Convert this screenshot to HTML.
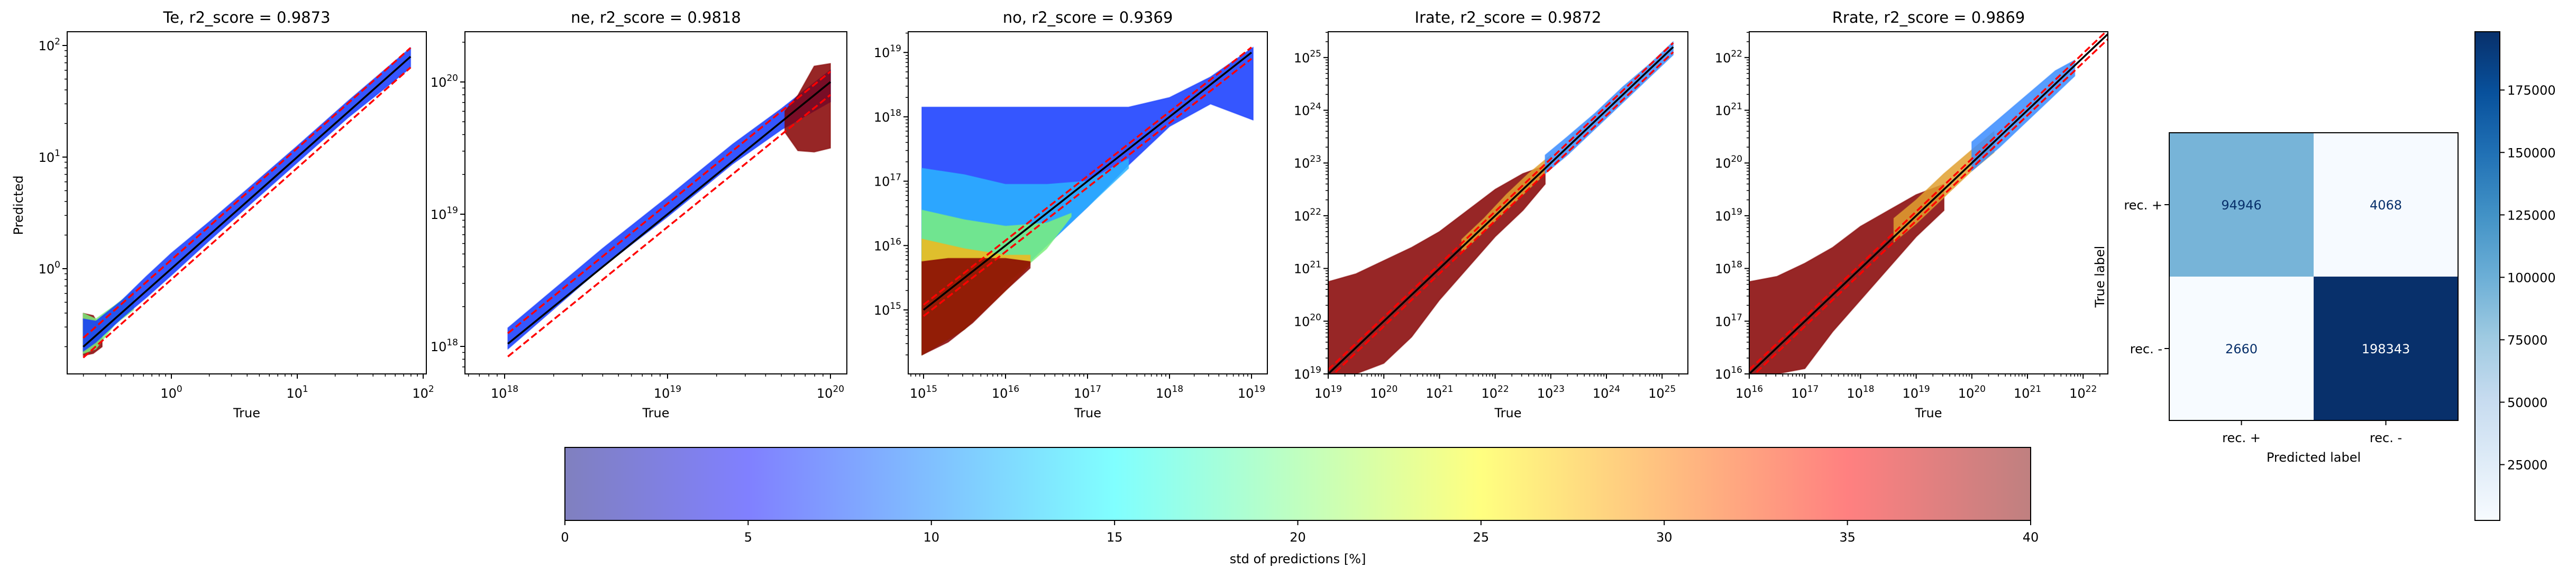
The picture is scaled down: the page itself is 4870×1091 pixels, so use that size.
<!DOCTYPE html>
<html><head><meta charset="utf-8"><style>
html,body{margin:0;padding:0;background:#fff;}
svg{display:block;font-family:"DejaVu Sans","Liberation Sans",sans-serif;}
</style></head><body>
<svg id="fig" width="4870" height="1091" viewBox="0 0 4870 1091" xmlns="http://www.w3.org/2000/svg">
<defs>
<linearGradient id="jetA" x1="0" x2="1" y1="0" y2="0">
<stop offset="0" stop-color="#8080bf"/><stop offset="0.125" stop-color="#8080ff"/><stop offset="0.375" stop-color="#80ffff"/><stop offset="0.625" stop-color="#ffff80"/><stop offset="0.875" stop-color="#ff8080"/><stop offset="1" stop-color="#bf8080"/>
</linearGradient>
<linearGradient id="bluesG" x1="0" x2="0" y1="1" y2="0">
<stop offset="0" stop-color="#f7fbff"/><stop offset="0.125" stop-color="#deebf7"/><stop offset="0.25" stop-color="#c6dbef"/><stop offset="0.375" stop-color="#9ecae1"/><stop offset="0.5" stop-color="#6baed6"/><stop offset="0.625" stop-color="#4292c6"/><stop offset="0.75" stop-color="#2171b5"/><stop offset="0.875" stop-color="#08519c"/><stop offset="1" stop-color="#08306b"/>
</linearGradient>
</defs>
</svg>
<script>
// ---------- data (log10 units) ----------
const teBlueX=[-0.7,-0.6,-0.4,-0.2,0,0.3,0.6,1.0,1.4,1.9];
const teBlueLo=[-0.74,-0.66,-0.45,-0.26,-0.06,0.25,0.55,0.95,1.35,1.80];
const teBlueHi=[-0.45,-0.47,-0.29,-0.07,0.14,0.42,0.71,1.10,1.50,1.98];
const teGreenX=[-0.7,-0.6,-0.45,-0.3];
const teGreenLo=[-0.76,-0.72,-0.5,-0.37];
const teGreenHi=[-0.4,-0.45,-0.33,-0.2];
const teRedX=[-0.7,-0.62,-0.55];
const teRedLo=[-0.78,-0.76,-0.7];
const teRedHi=[-0.4,-0.42,-0.55];

const neBlueX=[18.02,18.3,18.6,19.0,19.4,19.7,20.0];
const neBlueLo=[17.98,18.28,18.6,18.98,19.38,19.64,19.85];
const neBlueHi=[18.14,18.43,18.74,19.13,19.53,19.8,20.09];
const neRedX=[19.72,19.8,19.9,20.0];
const neRedLo=[19.62,19.48,19.47,19.5];
const neRedHi=[19.78,19.9,20.12,20.14];

const noBlueX=[14.98,15.5,16,16.5,17,17.5,18,18.5,19.02];
const noBlueLo=[14.3,14.7,15.4,16.0,16.6,17.25,17.85,18.2,17.95];
const noBlueHi=[18.15,18.15,18.15,18.15,18.15,18.15,18.3,18.62,19.08];
const noCyanX=[14.98,15.5,16,16.5,17,17.5];
const noCyanLo=[14.3,14.7,15.4,16.0,16.6,17.2];
const noCyanHi=[17.2,17.1,16.95,16.95,17.0,17.35];
const noGreenX=[14.98,15.5,16,16.5,16.8];
const noGreenLo=[14.3,14.7,15.4,15.95,16.45];
const noGreenHi=[16.55,16.4,16.3,16.35,16.5];
const noYellowX=[14.98,15.5,16,16.3];
const noYellowLo=[14.3,14.7,15.3,15.7];
const noYellowHi=[16.1,15.95,15.85,15.85];
const noRedX=[14.98,15.3,15.6,16.0,16.3];
const noRedLo=[14.3,14.5,14.8,15.3,15.65];
const noRedHi=[15.75,15.8,15.8,15.8,15.75];

const irRedX=[19,19.5,20,20.5,21,21.5,22,22.5,22.9];
const irRedLo=[19,19,19.2,19.7,20.4,21.0,21.6,22.1,22.6];
const irRedHi=[20.75,20.9,21.15,21.4,21.7,22.1,22.5,22.8,22.95];
const irMidX=[21.4,21.8,22.2,22.6,23.0];
const irMidLo=[21.3,21.7,22.1,22.5,22.9];
const irMidHi=[21.55,21.95,22.4,22.8,23.15];
const irBlueX=[22.9,23.3,23.8,24.3,24.8,25.2];
const irBlueLo=[22.8,23.15,23.65,24.15,24.65,25.05];
const irBlueHi=[23.15,23.5,23.95,24.45,24.9,25.3];

const rrRedX=[16,16.5,17,17.5,18,18.5,19,19.5];
const rrRedLo=[16,16,16.1,16.8,17.4,18.0,18.6,19.1];
const rrRedHi=[17.75,17.85,18.1,18.4,18.8,19.1,19.4,19.6];
const rrMidX=[18.6,19,19.5,20,20.4];
const rrMidLo=[18.5,18.85,19.35,19.85,20.2];
const rrMidHi=[18.95,19.3,19.8,20.25,20.6];
const rrBlueX=[20,20.5,21,21.5,21.85];
const rrBlueLo=[19.85,20.3,20.8,21.3,21.65];
const rrBlueHi=[20.4,20.85,21.3,21.75,21.95];

const panelTitles=["Te, r2_score = 0.9873","ne, r2_score = 0.9818","no, r2_score = 0.9369","Irate, r2_score = 0.9872","Rrate, r2_score = 0.9869"];
const teTicks=[0,1,2], neTicks=[18,19,20], noTicks=[15,16,17,18,19], irTicks=[19,20,21,22,23,24,25], rrTicks=[16,17,18,19,20,21,22];

const cmValues=[[94946,4068],[2660,198343]];
const cmLabels=["rec. +","rec. -"];
const cbTicks=[25000,50000,75000,100000,125000,150000,175000];
const cbMin=2660, cbMax=198343;
const stdTicks=[0,5,10,15,20,25,30,35,40];

// ---------- helpers ----------
const NS="http://www.w3.org/2000/svg";
const svg=document.getElementById('fig');
function mk(tag,attrs,parent){const e=document.createElementNS(NS,tag);for(const k in attrs)e.setAttribute(k,attrs[k]);(parent||svg).appendChild(e);return e;}
function powLabel(g,x,y,exp,anchor){
  const t=mk('text',{x:x,y:y,'font-size':24,'text-anchor':anchor},g);
  const a=document.createElementNS(NS,'tspan');a.textContent='10';t.appendChild(a);
  const b=document.createElementNS(NS,'tspan');b.setAttribute('dy','-11');b.setAttribute('font-size','17');b.textContent=String(exp);t.appendChild(b);
  return t;
}
const COL={red:'#850000',blue:'#1238ff',cyan:'#2ab4ff',green:'#7cf07c',yellow:'#f2b81c',mid:'#e0a030',lblue:'#3a8cff'};

const panels=[
 {name:'te',L:127,R:806,T:60,B:707,xa:0,xpx:324,xd:238,ya:0,ypx:508,yd:211,xt:teTicks,yt:teTicks,line:[-0.7,1.9],ylab:true,
  layers:[[teRedX,teRedLo,teRedHi,COL.red],[teGreenX,teGreenLo,teGreenHi,COL.green],[teBlueX,teBlueLo,teBlueHi,COL.blue]]},
 {name:'ne',L:879,R:1601,T:60,B:707,xa:19,xpx:1262,xd:308,ya:19,ypx:405,yd:250,xt:neTicks,yt:neTicks,line:[18.02,20.0],
  layers:[[neBlueX,neBlueLo,neBlueHi,COL.blue],[neRedX,neRedLo,neRedHi,COL.red]]},
 {name:'no',L:1717,R:2396,T:60,B:707,xa:15,xpx:1746,xd:155,ya:15,ypx:586,yd:121.7,xt:noTicks,yt:noTicks,line:[15,19],
  layers:[[noBlueX,noBlueLo,noBlueHi,COL.blue],[noCyanX,noCyanLo,noCyanHi,COL.cyan],[noGreenX,noGreenLo,noGreenHi,COL.green],[noYellowX,noYellowLo,noYellowHi,COL.yellow],[noRedX,noRedLo,noRedHi,COL.red]]},
 {name:'irate',L:2511,R:3191,T:60,B:707,xa:19,xpx:2511,xd:105.2,ya:19,ypx:707,yd:99.7,xt:irTicks,yt:irTicks,line:[19,25.2],
  layers:[[irRedX,irRedLo,irRedHi,COL.red],[irMidX,irMidLo,irMidHi,COL.mid],[irBlueX,irBlueLo,irBlueHi,COL.lblue]]},
 {name:'rrate',L:3307,R:3985,T:60,B:707,xa:16,xpx:3307,xd:105.2,ya:16,ypx:707,yd:99.7,xt:rrTicks,yt:rrTicks,line:[16,22.6],
  layers:[[rrRedX,rrRedLo,rrRedHi,COL.red],[rrMidX,rrMidLo,rrMidHi,COL.mid],[rrBlueX,rrBlueLo,rrBlueHi,COL.lblue]]}
];

panels.forEach((p,i)=>{
  const sx=v=>p.xpx+(v-p.xa)*p.xd;
  const sy=v=>p.ypx-(v-p.ya)*p.yd;
  const g=mk('g',{});
  
  
  const cid='clip'+i;
  const cp=mk('clipPath',{id:cid},g);mk('rect',{x:p.L,y:p.T,width:p.R-p.L,height:p.B-p.T},cp);
  const plot=mk('g',{'clip-path':'url(#'+cid+')'},g);
  p.layers.forEach((ly,j)=>{
    const [X,LO,HI,c]=ly;
    let pts=[];
    for(let k=0;k<X.length;k++)pts.push(sx(X[k])+','+sy(HI[k]));
    for(let k=X.length-1;k>=0;k--)pts.push(sx(X[k])+','+sy(LO[k]));
    const poly=mk('polygon',{points:pts.join(' '),fill:c,'fill-opacity':0.85,stroke:c,'stroke-width':2,'stroke-opacity':0.5,'stroke-linejoin':'round'},plot);
    
    
  });
  const [a,b]=p.line;
  const ln=mk('line',{x1:sx(a),y1:sy(a),x2:sx(b),y2:sy(b),stroke:'#000','stroke-width':3.5},plot);
  
  
  [Math.log10(1.2),Math.log10(0.8)].forEach((off,k)=>{
    const r=mk('line',{x1:sx(a),y1:sy(a+off),x2:sx(b),y2:sy(b+off),stroke:'#ff0000','stroke-width':3.5,'stroke-dasharray':'13,6'},plot);
    
    
  });
  const fr=mk('rect',{x:p.L,y:p.T,width:p.R-p.L,height:p.B-p.T,fill:'none',stroke:'#000','stroke-width':2},g);
  
  
  const xmin=p.xa+(p.L-p.xpx)/p.xd, xmax=p.xa+(p.R-p.xpx)/p.xd;
  const ymin=p.ya-(p.B-p.ypx)/p.yd, ymax=p.ya-(p.T-p.ypx)/p.yd;
  for(let d=Math.floor(xmin);d<=Math.ceil(xmax);d++)for(let k=2;k<=9;k++){const v=d+Math.log10(k);if(v>xmin&&v<xmax)mk('line',{x1:sx(v),x2:sx(v),y1:p.B,y2:p.B+5,stroke:'#000','stroke-width':1.5},g);}
  for(let d=Math.floor(ymin);d<=Math.ceil(ymax);d++)for(let k=2;k<=9;k++){const v=d+Math.log10(k);if(v>ymin&&v<ymax)mk('line',{x1:p.L-5,x2:p.L,y1:sy(v),y2:sy(v),stroke:'#000','stroke-width':1.5},g);}
  p.xt.forEach(v=>{mk('line',{x1:sx(v),x2:sx(v),y1:p.B,y2:p.B+9,stroke:'#000','stroke-width':2},g);
    const t=powLabel(g,sx(v),752,v,'middle');});
  p.yt.forEach(v=>{mk('line',{x1:p.L-9,x2:p.L,y1:sy(v),y2:sy(v),stroke:'#000','stroke-width':2},g);
    const t=powLabel(g,p.L-13,sy(v)+9,v,'end');});
  const ti=mk('text',{x:(p.L+p.R)/2,y:43,'font-size':29,'text-anchor':'middle'},g);ti.textContent=panelTitles[i];
  
  
  const xl=mk('text',{x:(p.L+p.R)/2,y:789,'font-size':24,'text-anchor':'middle'},g);xl.textContent='True';
  
  
  if(p.ylab){const yl=mk('text',{x:0,y:0,'font-size':24,'text-anchor':'middle',transform:'translate(43,388) rotate(-90)'},g);yl.textContent='Predicted';
    
    }
});

// ---------- std colorbar ----------
(function(){
  const L=1068,R=3839,T=846,B=984;
  const g=mk('g',{});
  
  
  mk('rect',{x:L,y:T,width:R-L,height:B-T,fill:'url(#jetA)',stroke:'#000','stroke-width':2},g);
  const sx=v=>L+(v-0)/(40-0)*(R-L);
  stdTicks.forEach(v=>{mk('line',{x1:sx(v),x2:sx(v),y1:B,y2:B+9,stroke:'#000','stroke-width':2},g);
    const t=mk('text',{x:sx(v),y:1024,'font-size':24,'text-anchor':'middle'},g);t.textContent=String(v);
    
    });
  const l=mk('text',{x:(L+R)/2,y:1065,'font-size':24,'text-anchor':'middle'},g);l.textContent='std of predictions [%]';
  
  
})();

// ---------- confusion matrix ----------
const blues=['#f7fbff','#deebf7','#c6dbef','#9ecae1','#6baed6','#4292c6','#2171b5','#08519c','#08306b'];
function hex2rgb(h){return [1,3,5].map(i=>parseInt(h.substr(i,2),16));}
function bluesAt(t){t=Math.max(0,Math.min(1,t));const f=t*8,i=Math.min(7,Math.floor(f)),r=f-i;const a=hex2rgb(blues[i]),b=hex2rgb(blues[i+1]);return 'rgb('+a.map((v,k)=>Math.round(v+(b[k]-v)*r)).join(',')+')';}
(function(){
  const L=4101,R=4647,T=251,B=795;
  const g=mk('g',{});
  
  
  const cw=(R-L)/2,ch=(B-T)/2;
  cmValues.forEach((row,r)=>row.forEach((v,c)=>{
    const t=(v-cbMin)/(cbMax-cbMin);
    const cell=mk('rect',{x:L+c*cw,y:T+r*ch,width:cw,height:ch,fill:bluesAt(t)},g);
    
    
    const tx=mk('text',{x:L+c*cw+cw/2,y:T+r*ch+ch/2+9,'font-size':24,'text-anchor':'middle',fill:t>0.5?'#ffffff':'#08306b'},g);tx.textContent=String(v);
    
    
  }));
  mk('rect',{x:L,y:T,width:R-L,height:B-T,fill:'none',stroke:'#000','stroke-width':2},g);
  cmLabels.forEach((lab,i)=>{
    const cx=L+i*cw+cw/2, cy=T+i*ch+ch/2;
    mk('line',{x1:cx,x2:cx,y1:B,y2:B+9,stroke:'#000','stroke-width':2},g);
    const xt=mk('text',{x:cx,y:836,'font-size':24,'text-anchor':'middle'},g);xt.textContent=lab;
    
    
    mk('line',{x1:L-9,x2:L,y1:cy,y2:cy,stroke:'#000','stroke-width':2},g);
    const yt=mk('text',{x:L-13,y:cy+9,'font-size':24,'text-anchor':'end'},g);yt.textContent=lab;
    
    
  });
  const xl=mk('text',{x:(L+R)/2,y:873,'font-size':24,'text-anchor':'middle'},g);xl.textContent='Predicted label';
  
  
  const yl=mk('text',{x:0,y:0,'font-size':24,'text-anchor':'middle',transform:'translate(3978,523) rotate(-90)'},g);yl.textContent='True label';
  
  
})();

// ---------- counts colorbar ----------
(function(){
  const L=4679,R=4726,T=60,B=984;
  const g=mk('g',{});
  
  
  mk('rect',{x:L,y:T,width:R-L,height:B-T,fill:'url(#bluesG)',stroke:'#000','stroke-width':2},g);
  const sy=v=>B-(v-cbMin)/(cbMax-cbMin)*(B-T);
  cbTicks.forEach(v=>{mk('line',{x1:R,x2:R+9,y1:sy(v),y2:sy(v),stroke:'#000','stroke-width':2},g);
    const t=mk('text',{x:R+14,y:sy(v)+9,'font-size':24},g);t.textContent=String(v);
    
    });
})();
</script>
</body></html>
